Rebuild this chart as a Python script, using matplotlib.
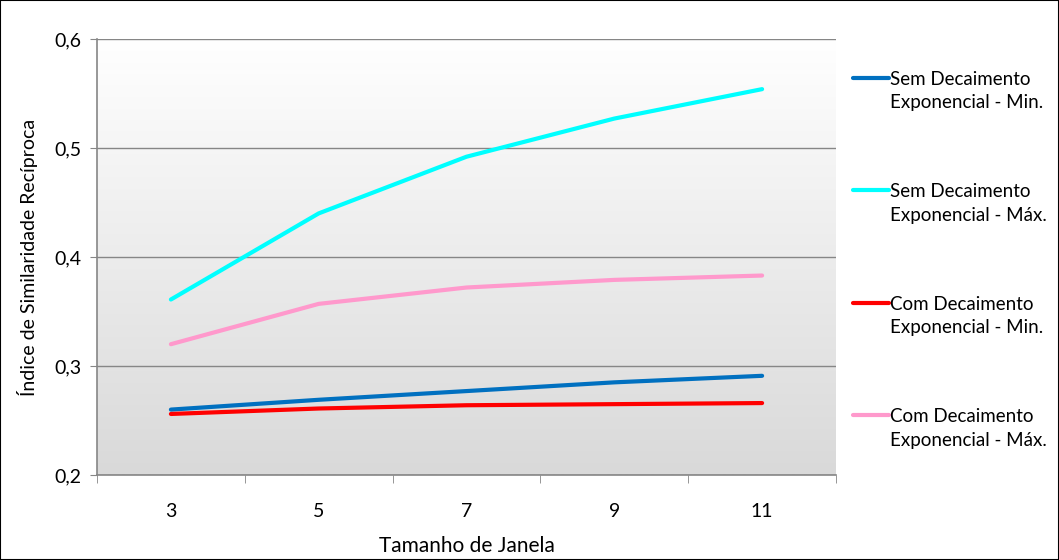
import numpy as np
import matplotlib.pyplot as plt
from matplotlib.colors import LinearSegmentedColormap
from matplotlib.legend_handler import HandlerLine2D
from matplotlib.patches import Rectangle

plt.rcParams['font.family'] = ['Lato', 'DejaVu Sans']

janelas = ['3', '5', '7', '9', '11']
sem_min = [0.260, 0.269, 0.277, 0.285, 0.291]
sem_max = [0.361, 0.440, 0.492, 0.527, 0.554]
com_min = [0.256, 0.261, 0.264, 0.265, 0.266]
com_max = [0.320, 0.357, 0.372, 0.379, 0.383]

series = [
    (sem_min, '#0070c0', 'Sem Decaimento\nExponencial - Min.'),
    (sem_max, '#00ffff', 'Sem Decaimento\nExponencial - Máx.'),
    (com_min, '#ff0000', 'Com Decaimento\nExponencial - Min.'),
    (com_max, '#ff99cc', 'Com Decaimento\nExponencial - Máx.'),
]


class LinhaNoTopo(HandlerLine2D):
    # sobe o traço da legenda para a altura da primeira linha do texto
    def create_artists(self, legend, orig_handle, xdescent, ydescent,
                       width, height, fontsize, trans):
        arts = super().create_artists(legend, orig_handle, xdescent, ydescent,
                                      width, height, fontsize, trans)
        for a in arts:
            a.set_ydata(np.asarray(a.get_ydata()) + 0.74 * fontsize)
        return arts


fig = plt.figure(figsize=(10.59, 5.6), dpi=100)
ax = fig.add_axes([97 / 1059, 85 / 560, 739 / 1059, 436 / 560])

# fundo em degradê (branco em cima, cinza embaixo)
grad = np.linspace(0, 1, 256).reshape(-1, 1)
ax.imshow(grad, cmap=LinearSegmentedColormap.from_list('g', ['#ffffff', '#d9d9d9']),
          aspect='auto', extent=[0, 1, 0, 1], transform=ax.transAxes, zorder=0)

x = np.arange(len(janelas))
for vals, cor, nome in series:
    ax.plot(x, vals, color=cor, lw=3, label=nome, solid_capstyle='round', zorder=3)

ax.set_xlim(-0.5, len(janelas) - 0.5)
ax.set_ylim(0.2, 0.6)
ax.set_yticks([0.2, 0.3, 0.4, 0.5, 0.6])
ax.set_yticklabels(['0,2', '0,3', '0,4', '0,5', '0,6'])
ax.set_xticks(x)
ax.set_xticklabels(janelas)
ax.set_xticks(np.arange(-0.5, len(janelas)), minor=True)
ax.tick_params(axis='x', which='major', length=0, pad=20, labelsize=14)
ax.tick_params(axis='x', which='minor', length=6, color='#868686', direction='out')
ax.tick_params(axis='y', length=5, color='#868686', labelsize=14, pad=6)
ax.grid(axis='y', color='#868686', lw=1, zorder=1)
ax.set_axisbelow(True)
for s in ['top', 'right']:
    ax.spines[s].set_visible(False)
for s in ['left', 'bottom']:
    ax.spines[s].set_color('#868686')
    ax.spines[s].set_linewidth(1.2)

ax.set_xlabel('Tamanho de Janela', fontsize=15, labelpad=12)
ax.set_ylabel('Índice de Similaridade Recíproca', fontsize=14, labelpad=12)

leg = fig.legend(loc='upper left', bbox_to_anchor=(836 / 1059, 506 / 560), frameon=False,
                 fontsize=13.5, labelspacing=3.85, handlelength=1.9, handletextpad=0.08,
                 handler_map={plt.Line2D: LinhaNoTopo()})
for t in leg.get_texts():
    t.set_linespacing(1.45)

fig.patches.append(Rectangle((0, 0), 1, 1, transform=fig.transFigure, fill=False,
                             edgecolor='black', lw=1.5))

fig.savefig('out.png', dpi=100)
